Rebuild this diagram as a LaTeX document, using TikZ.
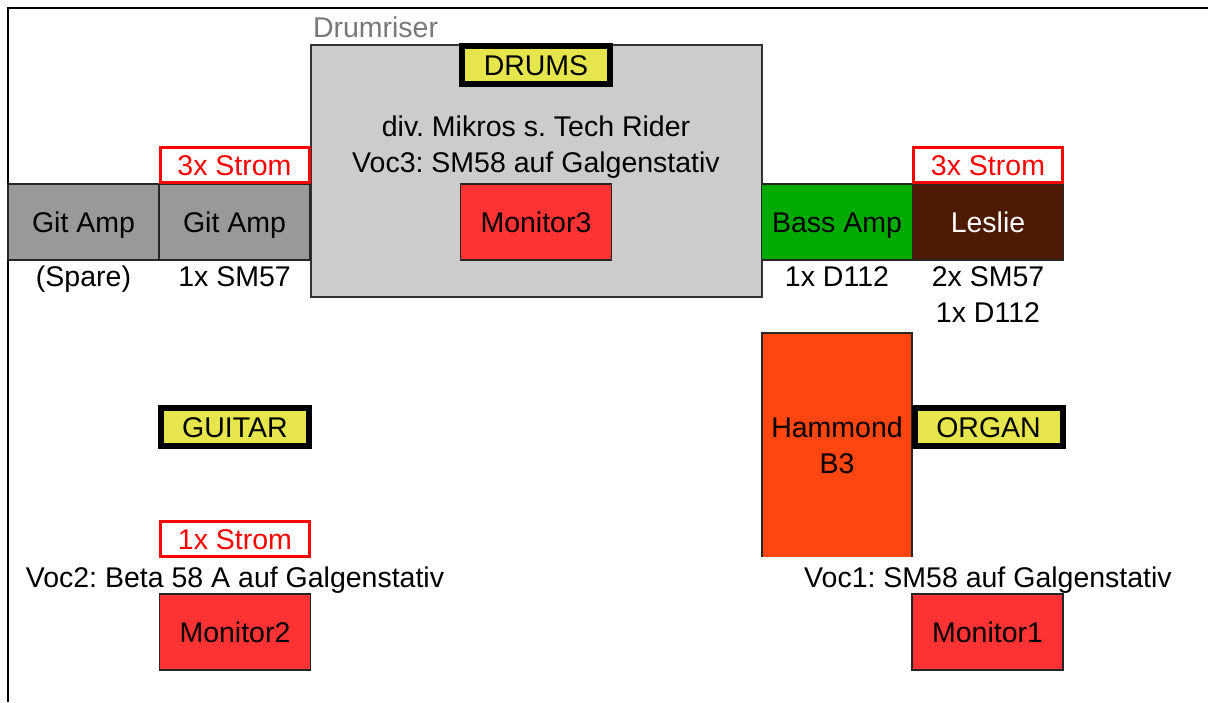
\documentclass[tikz,border=0pt]{standalone}
\usepackage{fontspec}
\setmainfont{Liberation Sans}
\usetikzlibrary{positioning}
\definecolor{RiserGray}{RGB}{204,204,204}
\definecolor{RiserText}{RGB}{120,120,120}
\definecolor{AmpGray}{RGB}{153,153,153}
\definecolor{MonRed}{RGB}{255,51,51}
\definecolor{BassGreen}{RGB}{0,170,0}
\definecolor{LeslieBrown}{RGB}{77,25,0}
\definecolor{HammondOrange}{RGB}{255,69,16}
\definecolor{TagYellow}{RGB}{230,230,76}
\frenchspacing

\begin{document}
\begin{tikzpicture}[x=1pt,y=-1pt,node distance=0pt,every node/.style={font=\fontsize{28.5}{36}\selectfont,inner sep=0pt,outer sep=0pt},riser/.style={draw=black!80,line width=1.5pt,fill=RiserGray,minimum width=451pt,minimum height=252pt},unit/.style={draw=black!85,line width=1.5pt,minimum width=151pt,minimum height=76pt,text height=20pt,text depth=0pt},tag/.style={draw=black,line width=6pt,fill=TagYellow,minimum width=148pt,minimum height=38pt,text height=20pt,text depth=0pt},strom/.style={draw=red,line width=3pt,fill=white,text=red,minimum width=149pt,minimum height=35pt,text height=20pt,text depth=0pt},mic/.style={align=center},note/.style={text height=20pt,text depth=0pt}]
\useasboundingbox (0,0) rectangle (1208,702);
\draw[line width=1.5pt] (8,702) -- (8,8) -- (1208,8);
% drum riser
\node[riser](riser) at (536.5,171){};
\node[above right=7pt and 2pt of riser.north west,text=RiserText](riserlbl){Drumriser};
\node[tag](drums) at (536,65){DRUMS};
\node[align=center](riserinfo) at (536,147){div. Mikros s. Tech Rider\\Voc3: SM58 auf Galgenstativ};
\node[unit,fill=MonRed](mon3) at (536,222){Monitor3};
% amps left
\node[unit,fill=AmpGray](spare) at (83.5,222){Git Amp};
\node[unit,fill=AmpGray,right=of spare](gitamp){Git Amp};
\node[strom,above=1.5pt of gitamp](stromgit){3x Strom};
\node[mic,below=6pt of spare](sparemic){(Spare)};
\node[mic,below=7pt of gitamp](gitmic){1x SM57};
% amps right
\node[unit,fill=BassGreen](bass) at (837,222){Bass Amp};
\node[unit,fill=LeslieBrown,text=white,right=of bass](leslie){Leslie};
\node[strom,above=1.5pt of leslie](stromleslie){3x Strom};
\node[mic,below=7pt of bass](bassmic){1x D112};
\node[mic,below=7pt of leslie](lesliemic){2x SM57\\1x D112};
% organ
\node[fill=HammondOrange,minimum width=150pt,minimum height=224pt,align=center](hammond) at (837,445){Hammond\\B3};
\draw[black!85,line width=1.5pt] (hammond.south west) |- (hammond.north east) -- (hammond.south east);
\node[tag](organ) at (988.5,427){ORGAN};
% guitar
\node[tag](guitar) at (235,427){GUITAR};
\node[strom](stromvoc) at (235,539){1x Strom};
% vocals
\node[note](voc2) at (235,577){Voc2: Beta 58 A auf Galgenstativ};
\node[unit,fill=MonRed](mon2) at (235,632){Monitor2};
\node[note](voc1) at (988,577){Voc1: SM58 auf Galgenstativ};
\node[unit,fill=MonRed](mon1) at (987.5,632){Monitor1};
\end{tikzpicture}
\end{document}
